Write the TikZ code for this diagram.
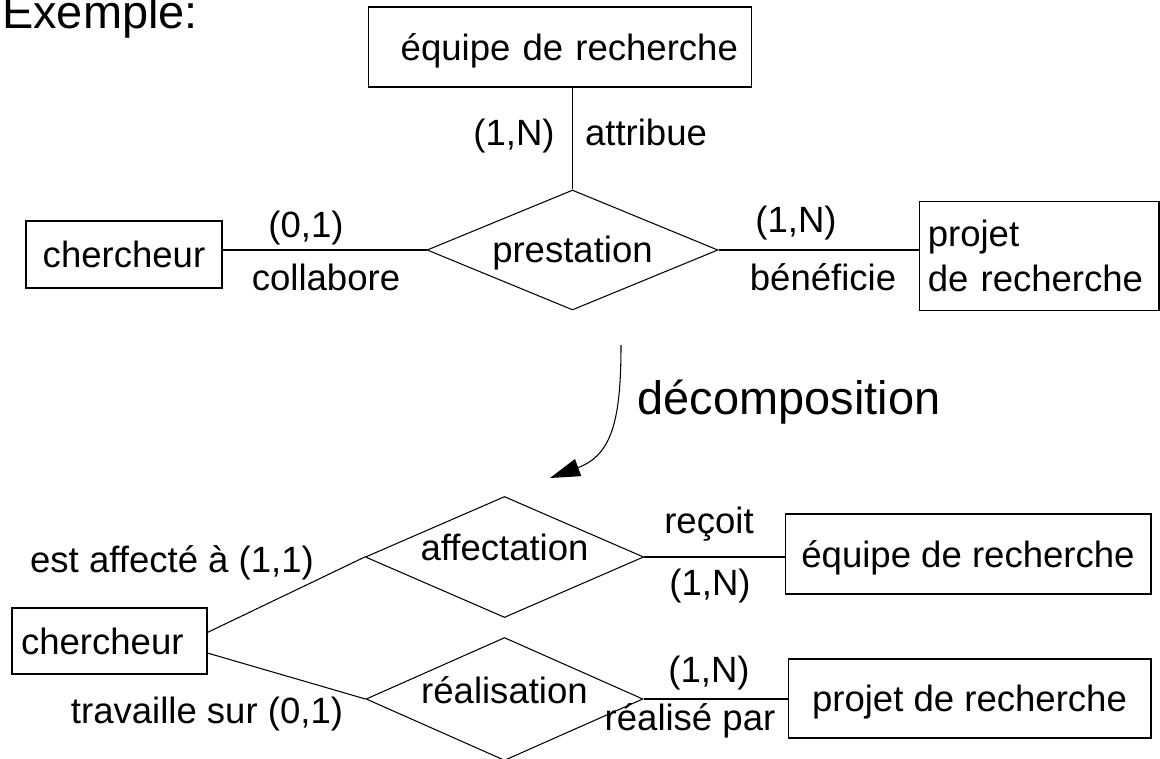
\documentclass[tikz,border=0pt]{standalone}
\usepackage{fontspec}
\setmainfont{Liberation Sans}
\usetikzlibrary{shapes.geometric,arrows.meta}

\tikzset{
  entite/.style={draw, line width=0.6pt, inner sep=0pt, text depth=0pt},
  assoc/.style={draw, line width=0.6pt, diamond, aspect=2.3, inner sep=0pt, text height=0.54cm},
  lien/.style={line width=0.6pt},
  grand/.style={font=\fontsize{26.7}{32}\selectfont}
}

\begin{document}
\begin{tikzpicture}[x=0.02cm, y=-0.02cm, every node/.style={font=\fontsize{20.8}{26}\selectfont}]
            \useasboundingbox (0,0) rectangle (1160,758);
            \node[grand, anchor=base west] (titre) at (-4,28) {Exemple:};
            \node[entite, minimum width=7.68cm, minimum height=1.6cm, text width=7.12cm, align=right] (equipeA) at (560,47) {équipe de recherche};
            \node[entite, minimum width=3.92cm, minimum height=1.34cm] (chercheurA) at (124,254.5) {chercheur};
            \node[entite, text depth=, minimum width=4.8cm, minimum height=2.18cm, text width=4.45cm, align=left] (projetA) at (1039,256) {projet\\de recherche};
            \node[assoc, minimum width=5.82cm, minimum height=2.4cm, text depth=0.06cm] (prestation) at (572.5,250) {prestation};
            \draw[lien] (equipeA.south -| prestation.north) -- (prestation.north);
            \draw[lien] (chercheurA.east |- prestation.west) -- (prestation.west);
            \draw[lien] (prestation.east) -- (projetA.west |- prestation.east);
            \node[anchor=base] (cardEquipeA) at (514,145) {(1,N)};
            \node[anchor=base] (roleEquipeA) at (646,145) {attribue};
            \node[anchor=base] (cardChercheurA) at (306,237) {(0,1)};
            \node[anchor=base] (roleChercheurA) at (326,290) {collabore};
            \node[anchor=base] (cardProjetA) at (796,232) {(1,N)};
            \node[anchor=base] (roleProjetA) at (823,290) {bénéficie};
            \coordinate (decoDebut) at (621,345);
            \coordinate (decoFin) at (550,478);
            \draw[lien, -{Triangle[length=0.6cm, width=0.36cm]}] (decoDebut) .. controls (621,420) and (612,455) .. (decoFin);
            \node[grand, anchor=base] (decomposition) at (789,414) {décomposition};
            \node[entite, minimum width=3.9cm, minimum height=1.32cm, text width=3.54cm, align=left] (chercheurB) at (109.5,641) {chercheur};
            \node[assoc, minimum width=5.5cm, minimum height=2.42cm, text depth=0.42cm] (affectation) at (504.5,557) {affectation};
            \node[assoc, minimum width=5.54cm, minimum height=2.46cm, text depth=0.38cm] (realisation) at (504.5,699) {réalisation};
            \node[entite, minimum width=7.32cm, minimum height=1.6cm] (equipeB) at (968,554) {équipe de recherche};
            \node[entite, minimum width=7.26cm, minimum height=1.58cm] (projetB) at (969.5,698.5) {projet de recherche};
            \draw[lien] (chercheurB.5) -- (affectation.west);
            \draw[lien] (chercheurB.-7) -- (realisation.west);
            \draw[lien] (affectation.east) -- (affectation.east -| equipeB.west);
            \draw[lien] (realisation.east) -- (realisation.east -| projetB.west);
            \node[anchor=base] (roleChercheurB) at (172,572) {est affecté à (1,1)};
            \node[anchor=base] (roleRealisationB) at (207,723) {travaille sur (0,1)};
            \node[anchor=base] (roleEquipeB) at (709,533) {reçoit};
            \node[anchor=base] (cardEquipeB) at (710,595) {(1,N)};
            \node[anchor=base] (cardProjetB) at (709,682) {(1,N)};
            \node[anchor=base] (roleProjetB) at (690,730) {réalisé par};
        \end{tikzpicture}
\end{document}
